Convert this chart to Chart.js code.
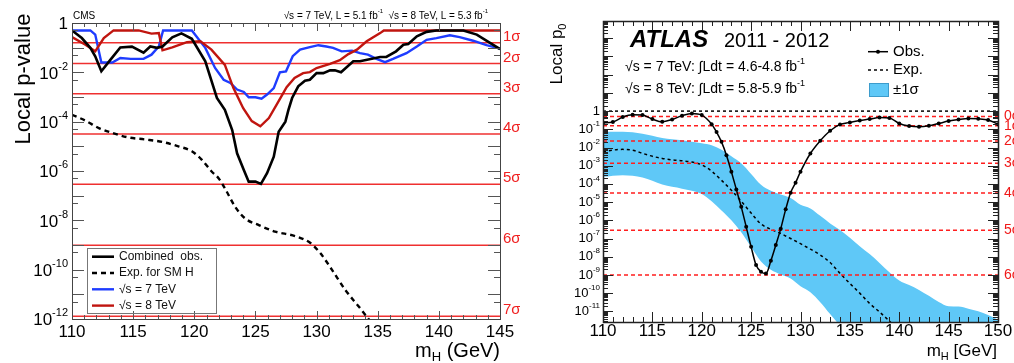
<!DOCTYPE html>
<html>
<head>
<meta charset="utf-8">
<title>Local p-value scans</title>
<script src="https://cdn.jsdelivr.net/npm/chart.js@4.4.1/dist/chart.umd.min.js"></script>
<style>
  html,body{margin:0;padding:0;background:#fff;}
  body{width:1014px;height:363px;position:relative;overflow:hidden;}
  canvas{position:absolute;top:0;}
  #cms{left:0;}
  #atlas{left:520px;}
</style>
</head>
<body>
<canvas id="cms" width="520" height="363"></canvas>
<canvas id="atlas" width="494" height="363"></canvas>
<script>
const FONT = '"Liberation Sans", Arial, Helvetica, sans-serif';

// ---------- CMS panel ----------
const cmsRange = [110, 145];
const cmsXTicks = [110, 115, 120, 125, 130, 135, 140, 145];
const cmsYTicks = [1, 1e-2, 1e-4, 1e-6, 1e-8, 1e-10, 1e-12];

const cmsObsMass = [110.0,110.8,111.5,111.9,112.4,113.2,113.95,114.9,115.85,116.4,116.95,117.4,118.2,118.95,119.8,120.9,121.85,122.5,123.1,123.5,124.05,124.45,125.0,125.45,125.95,126.5,126.9,127.45,127.7,128.0,128.5,129.05,129.45,130.0,130.55,131.1,131.5,132.0,133.0,133.55,135.2,135.7,136.5,137.1,137.5,138.2,139.0,139.8,142.0,143.1,145.0];
const cmsObsP = [0.50,0.245,0.098,0.045,0.011,0.035,0.102,0.11,0.063,0.112,0.098,0.112,0.263,0.38,0.229,0.028,9.1e-4,3.0e-4,4.6e-5,5.2e-6,1.1e-6,3.7e-7,3.7e-7,3.0e-7,8.1e-7,3.8e-6,3.9e-5,1.0e-4,3.0e-4,9.1e-4,2.7e-3,4.6e-3,5.0e-3,9.3e-3,9.3e-3,0.012,0.012,0.010,0.028,0.028,0.042,0.042,0.071,0.132,0.141,0.288,0.437,0.50,0.50,0.339,0.087];

const cms7Mass = [110.0,111.5,111.9,112.4,113.3,113.95,114.8,115.85,116.5,117.1,117.45,119.8,120.9,121.7,122.4,122.95,123.5,124.05,124.45,125.0,125.5,125.95,126.5,127.0,127.5,128.05,128.65,129.45,130.15,130.8,131.35,132.05,132.9,133.55,134.2,134.9,135.6,136.25,137.35,138.2,139.0,139.8,140.9,141.7,142.8,143.9,145.0];
const cms7P = [0.50,0.50,0.34,0.025,0.025,0.038,0.035,0.035,0.052,0.112,0.50,0.50,0.098,0.015,5.0e-3,3.7e-3,2.0e-3,1.6e-3,9.8e-4,9.8e-4,8.5e-4,1.26e-3,2.3e-3,0.010,0.011,0.045,0.083,0.105,0.126,0.112,0.098,0.071,0.076,0.060,0.052,0.035,0.026,0.035,0.060,0.112,0.209,0.245,0.316,0.269,0.191,0.126,0.091];

const cms8Mass = [110.0,111.1,111.9,112.6,113.4,115.45,116.5,117.1,117.4,118.2,119.4,120.5,121.4,122.5,123.2,124.0,124.7,125.4,126.1,126.9,127.55,128.2,128.9,129.45,130.0,131.1,131.9,132.6,133.3,134.1,135.2,135.5,145.0];
const cms8P = [0.269,0.132,0.071,0.245,0.50,0.50,0.372,0.389,0.078,0.102,0.166,0.182,0.083,0.020,2.3e-3,3.5e-4,1.05e-4,6.5e-5,1.4e-4,6.8e-4,2.5e-3,5.9e-3,9.3e-3,0.0102,0.015,0.022,0.031,0.055,0.083,0.182,0.389,0.50,0.50];

const cmsExpMass = [110.0,111.1,112.2,113.3,114.6,116.0,117.4,118.7,119.8,120.6,121.4,122.0,122.5,123.35,124.15,125.25,126.6,128.25,129.5,130.3,131.25,132.35,133.45,134.25,135.0];
const cmsExpP = [1.9e-4,1.1e-4,5.5e-5,3.5e-5,2.3e-5,1.9e-5,1.5e-5,1.0e-5,6.3e-6,2.9e-6,9.8e-7,5.0e-7,2.0e-7,3.5e-8,1.2e-8,6.5e-9,3.5e-9,2.3e-9,1.2e-9,4.7e-10,1.0e-10,1.5e-11,3.2e-12,1.0e-12,3.2e-13];

// one-sided p-values for 0..7 sigma
const sigmaNames = ["0σ","1σ","2σ","3σ","4σ","5σ","6σ","7σ"];
const sigmaP = [0.5, 0.1587, 0.02275, 1.35e-3, 3.17e-5, 2.87e-7, 9.87e-10, 1.28e-12];

// ---------- ATLAS panel ----------
const atlasRange = [110, 150];
const atlasXTicks = [110, 115, 120, 125, 130, 135, 140, 145, 150];
const atlasYTicks = [1, 1e-1, 1e-2, 1e-3, 1e-4, 1e-5, 1e-6, 1e-7, 1e-8, 1e-9, 1e-10, 1e-11];

const atlasObsMass = [110,111,112,113,114,115,116,117,118,119,120,121,121.5,122,122.5,123,123.5,124,124.5,125,125.5,126,126.5,127,127.5,128,128.5,129,129.5,130,131,132,133,134,135,136,137,138,139,140,141,142,143,144,145,146,147,148,149,150];
const atlasObsP = [0.229,0.251,0.468,0.631,0.603,0.363,0.257,0.347,0.562,0.741,0.603,0.191,0.0708,0.0204,3.8e-3,4.7e-4,5.0e-5,5.5e-6,4.4e-7,3.5e-8,3.5e-9,1.5e-9,1.2e-9,6.0e-9,4.4e-8,3.5e-7,4.0e-6,3.3e-5,1.15e-4,4.7e-4,4.7e-3,0.0234,0.083,0.186,0.240,0.309,0.363,0.447,0.417,0.209,0.151,0.138,0.155,0.209,0.282,0.347,0.398,0.380,0.324,0.191];

const atlasExpMass = [110,111,112,113,114,115,116,117,118,119,120,121,122,123,124,125,126,127,128,129,130,131,132,133,134,135,136,137,138,139,140];
const atlasExpP = [5.75e-3,7.2e-3,7.9e-3,7.1e-3,4.8e-3,3.3e-3,2.5e-3,2.1e-3,1.86e-3,1.58e-3,1.12e-3,5.0e-4,1.58e-4,4.5e-5,1.12e-5,2.5e-6,6.3e-7,3.2e-7,1.9e-7,1.0e-7,5.2e-8,2.6e-8,1.26e-8,4.8e-9,1.23e-9,3.4e-10,1.0e-10,2.7e-11,9.3e-12,2.9e-12,7.9e-13];

const atlasBandMass = [110,112,114,116,118,120,121,122,123,124,125,126,127,128,129,130,131,132,133,134,135,136,137,138,139,140,141,142,143,144,145,146,147,148,149,150];
const atlasBandHi = [0.0724,0.0724,0.0562,0.0331,0.0251,0.0170,0.0132,7.6e-3,3.3e-3,1.35e-3,3.5e-4,8.9e-5,4.2e-5,2.6e-5,1.66e-5,7.1e-6,4.5e-6,1.78e-6,6.8e-7,2.9e-7,1.12e-7,3.8e-8,1.41e-8,4.6e-9,1.41e-9,5.0e-10,2.8e-10,1.51e-10,7.1e-11,3.3e-11,1.9e-11,1.82e-11,1.41e-11,1.0e-11,6.3e-12,3.5e-12];
const atlasBandLo = [2.45e-4,3.0e-4,2.24e-4,9.3e-5,5.5e-5,2.8e-5,1.12e-5,3.5e-6,1.02e-6,2.2e-7,3.4e-8,5.5e-9,1.9e-9,1.05e-9,6.3e-10,2.4e-10,1.12e-10,3.2e-11,7.1e-12,1.6e-12,3e-13,3e-13,3e-13,3e-13,3e-13,3e-13,3e-13,3e-13,3e-13,3e-13,3e-13,3e-13,3e-13,3e-13,3e-13,3e-13];

// ---------- helpers ----------
const pts = (xs, ys) => xs.map((x, i) => ({x, y: ys[i]}));
const hline = (p, r) => [{x: r[0], y: p}, {x: r[1], y: p}];
const crisp = v => Math.round(v) + 0.5;

function drawRich(ctx, parts, x, y, size, align){
  const fontOf = p => `${(p.sup || p.sub) ? Math.round(size * 0.64) : size}px ${FONT}`;
  let w = 0;
  parts.forEach(p => { ctx.font = fontOf(p); w += ctx.measureText(p.t).width; });
  let cx = align === "right" ? x - w : align === "center" ? x - w / 2 : x;
  ctx.textAlign = "left";
  parts.forEach(p => {
    ctx.font = fontOf(p);
    const dy = p.sup ? -size * 0.42 : p.sub ? size * 0.22 : 0;
    ctx.fillText(p.t, cx, y + dy);
    cx += ctx.measureText(p.t).width;
  });
  return w;
}
function powParts(v){
  if (v === 1) return [{t: "1"}];
  return [{t: "10"}, {t: String(Math.round(Math.log10(v))), sup: true}];
}

// inward tick marks, box frame and tick labels, ROOT style
function frame(o){
  return {
    id: "frame",
    afterDatasetsDraw(chart){
      const {ctx, chartArea: a} = chart;
      const x = chart.scales.x, y = chart.scales.y;
      ctx.save();
      ctx.strokeStyle = o.tickColor; ctx.lineWidth = 1;
      ctx.beginPath();
      o.xTicks.forEach(([v, len]) => {
        const px = crisp(x.getPixelForValue(v));
        ctx.moveTo(px, a.bottom); ctx.lineTo(px, a.bottom - len);
        ctx.moveTo(px, a.top); ctx.lineTo(px, a.top + len);
      });
      o.yTicks.forEach(([v, len]) => {
        const py = crisp(y.getPixelForValue(v));
        ctx.moveTo(a.left, py); ctx.lineTo(a.left + len, py);
        ctx.moveTo(a.right, py); ctx.lineTo(a.right - len, py);
      });
      ctx.stroke();
      ctx.strokeStyle = o.frameColor; ctx.lineWidth = o.frameWidth;
      ctx.strokeRect(Math.round(a.left) + 0.5, Math.round(a.top) + 0.5, Math.round(a.right - a.left), Math.round(a.bottom - a.top));

      ctx.fillStyle = "#000"; ctx.textBaseline = "middle";
      ctx.font = `${o.xLabelSize}px ${FONT}`; ctx.textAlign = "center";
      o.xLabels.forEach(v => ctx.fillText(String(v), x.getPixelForValue(v), o.xLabelY));
      o.yLabels.forEach(v => drawRich(ctx, powParts(v), o.yLabelRight, y.getPixelForValue(v) + o.yLabelDy, o.yLabelSize, "right"));
      if (o.decor) o.decor(ctx, chart);
      ctx.restore();
    }
  };
}

function baseOptions(pad, xr, yr){
  return {
    responsive: false, animation: false, devicePixelRatio: 1, events: [],
    layout: {padding: pad},
    plugins: {legend: {display: false}, tooltip: {enabled: false}},
    elements: {point: {radius: 0}, line: {tension: 0, fill: false}},
    scales: {
      x: {type: "linear", display: false, min: xr[0], max: xr[1]},
      y: {type: "logarithmic", display: false, min: yr[0], max: yr[1]}
    }
  };
}

// ---------- CMS chart ----------
const CMS_BLUE = "#1e3cff", CMS_RED = "#c0150f", SIG_RED = "#ef3030";

const cmsXT = [], cmsYT = [];
for (let m = cmsRange[0]; m <= cmsRange[1]; m++) cmsXT.push([m, m % 5 === 0 ? 8 : 4]);
for (let e = 0; e >= -12; e--){
  cmsYT.push([Math.pow(10, e), 12]);
  if (e < 0) cmsYT.push([5 * Math.pow(10, e), 6]);
}

const cmsLegendRows = ["Combined  obs.", "Exp. for SM H", "√s = 7 TeV", "√s = 8 TeV"];

function cmsDecor(ctx, chart){
  const y = chart.scales.y;
  ctx.fillStyle = "#000"; ctx.textBaseline = "middle"; ctx.textAlign = "left";
  ctx.font = `10px ${FONT}`;
  ctx.fillText("CMS", 73, 16);
  drawRich(ctx, [{t: "√s = 7 TeV, L = 5.1 fb"}, {t: "-1", sup: true}, {t: "  √s = 8 TeV, L = 5.3 fb"}, {t: "-1", sup: true}], 488, 16, 10, "right");

  ctx.fillStyle = "#f02020"; ctx.textBaseline = "alphabetic"; ctx.font = `15px ${FONT}`;
  for (let i = 1; i < sigmaNames.length; i++){
    ctx.fillText(sigmaNames[i], 503, y.getPixelForValue(sigmaP[i]) - 2);
  }

  ctx.fillStyle = "#000";
  ctx.save();
  ctx.translate(30, 79); ctx.rotate(-Math.PI / 2);
  ctx.font = `22px ${FONT}`; ctx.textAlign = "center";
  ctx.fillText("Local p-value", 0, 0);
  ctx.restore();
  drawRich(ctx, [{t: "m"}, {t: "H", sub: true}, {t: " (GeV)"}], 500, 357, 20, "right");

  // legend box
  ctx.strokeStyle = "#777"; ctx.lineWidth = 1;
  ctx.strokeRect(87.5, 248.5, 129, 65);
  ctx.textBaseline = "middle";
  cmsLegendRows.forEach((lab, i) => {
    const ds = chart.data.datasets.find(d => d.label === lab);
    const ly = 256.7 + i * 16.3;
    ctx.strokeStyle = ds.borderColor; ctx.lineWidth = ds.borderWidth;
    ctx.setLineDash(ds.borderDash || []);
    ctx.beginPath(); ctx.moveTo(92, ly); ctx.lineTo(114, ly); ctx.stroke();
    ctx.setLineDash([]);
    ctx.fillStyle = "#111"; ctx.font = `12px ${FONT}`; ctx.textAlign = "left";
    ctx.fillText(lab, 119, ly);
  });
}

const cmsSigmaSets = sigmaP.slice(1).map((p, i) => ({
  label: sigmaNames[i + 1], data: hline(p, cmsRange), borderColor: SIG_RED, borderWidth: 1.5
}));

new Chart(document.getElementById("cms"), {
  type: "line",
  data: {datasets: [
    {label: "Combined  obs.", data: pts(cmsObsMass, cmsObsP), borderColor: "#000", borderWidth: 2.6},
    {label: "√s = 8 TeV", data: pts(cms8Mass, cms8P), borderColor: CMS_RED, borderWidth: 2.4},
    {label: "√s = 7 TeV", data: pts(cms7Mass, cms7P), borderColor: CMS_BLUE, borderWidth: 2.4},
    {label: "Exp. for SM H", data: pts(cmsExpMass, cmsExpP), borderColor: "#000", borderWidth: 2.4, borderDash: [5, 4], cubicInterpolationMode: "monotone"},
    ...cmsSigmaSets
  ]},
  options: baseOptions({left: 72, top: 23, right: 20, bottom: 44}, cmsRange, [1e-12, 1]),
  plugins: [frame({
    tickColor: "#555", frameColor: "#444", frameWidth: 1,
    xTicks: cmsXT, yTicks: cmsYT,
    xLabels: cmsXTicks, xLabelY: 332.5, xLabelSize: 17,
    yLabels: cmsYTicks, yLabelRight: 68, yLabelDy: 1.5, yLabelSize: 17,
    decor: cmsDecor
  })]
});

// ---------- ATLAS chart ----------
const BAND = "#5fc8f7", ATL_RED = "#ff1e1e";
const atlasYMin = 2.6e-12, atlasYMax = 8.9e4;

const atlasXT = [], atlasYT = [];
for (let m = atlasRange[0]; m <= atlasRange[1]; m++) atlasXT.push([m, m % 5 === 0 ? 10 : 5]);
for (let e = -12; e <= 4; e++){
  for (let k = 1; k <= 9; k++){
    const v = k * Math.pow(10, e);
    if (v >= atlasYMin && v <= atlasYMax) atlasYT.push([v, k === 1 ? 10 : 5]);
  }
}

function atlasDecor(ctx, chart){
  const y = chart.scales.y;
  ctx.fillStyle = "#000"; ctx.textBaseline = "alphabetic"; ctx.textAlign = "left";
  ctx.font = `italic bold 24px ${FONT}`;
  ctx.fillText("ATLAS", 110, 47);
  ctx.font = `20px ${FONT}`;
  ctx.fillText("2011 - 2012", 204, 47);
  ctx.textBaseline = "middle";
  drawRich(ctx, [{t: "√s = 7 TeV: ∫Ldt = 4.6-4.8 fb"}, {t: "-1", sup: true}], 105, 67, 14, "left");
  drawRich(ctx, [{t: "√s = 8 TeV: ∫Ldt = 5.8-5.9 fb"}, {t: "-1", sup: true}], 105, 89.5, 14, "left");

  // legend
  const obs = chart.data.datasets[0], exp = chart.data.datasets.find(d => d.label === "Exp.");
  ctx.strokeStyle = obs.borderColor; ctx.lineWidth = obs.borderWidth;
  ctx.beginPath(); ctx.moveTo(348, 51.7); ctx.lineTo(368, 51.7); ctx.stroke();
  ctx.beginPath(); ctx.arc(358, 51.7, 2, 0, Math.PI * 2); ctx.fill();
  ctx.strokeStyle = exp.borderColor; ctx.lineWidth = exp.borderWidth; ctx.setLineDash(exp.borderDash);
  ctx.beginPath(); ctx.moveTo(348, 70); ctx.lineTo(368, 70); ctx.stroke();
  ctx.setLineDash([]);
  ctx.fillStyle = BAND; ctx.fillRect(349, 83, 20, 14);
  ctx.strokeStyle = "#3d9ccc"; ctx.lineWidth = 1; ctx.strokeRect(349.5, 83.5, 19, 13);
  ctx.fillStyle = "#000"; ctx.font = `15px ${FONT}`;
  ctx.fillText("Obs.", 373, 52);
  ctx.fillText("Exp.", 373, 70);
  ctx.fillText("±1σ", 373, 90);

  ctx.fillStyle = "#f01818"; ctx.font = `14px ${FONT}`;
  for (let i = 0; i <= 6; i++) ctx.fillText(sigmaNames[i], 484, y.getPixelForValue(sigmaP[i]));

  ctx.fillStyle = "#000"; ctx.textBaseline = "alphabetic";
  ctx.save();
  ctx.translate(42, 54); ctx.rotate(-Math.PI / 2);
  drawRich(ctx, [{t: "Local p"}, {t: "0", sub: true}], 0, 0, 17, "center");
  ctx.restore();
  drawRich(ctx, [{t: "m"}, {t: "H", sub: true}, {t: " [GeV]"}], 477, 356, 17, "right");
}

const atlasSigmaSets = sigmaP.slice(0, 7).map((p, i) => ({
  label: sigmaNames[i], data: hline(p, atlasRange), borderColor: ATL_RED, borderWidth: 1.5, borderDash: [4, 3]
}));

new Chart(document.getElementById("atlas"), {
  type: "line",
  data: {datasets: [
    {label: "Obs.", data: pts(atlasObsMass, atlasObsP), borderColor: "#000", borderWidth: 1.5,
     cubicInterpolationMode: "monotone", pointRadius: 2, pointBackgroundColor: "#000", pointBorderWidth: 0},
    ...atlasSigmaSets,
    {label: "p0 = 1", data: hline(1, atlasRange), borderColor: "#000", borderWidth: 1.5, borderDash: [3, 3]},
    {label: "Exp.", data: pts(atlasExpMass, atlasExpP), borderColor: "#000", borderWidth: 1.5, borderDash: [3, 3], cubicInterpolationMode: "monotone"},
    {label: "+1σ", data: pts(atlasBandMass, atlasBandHi), borderWidth: 0, borderColor: BAND, backgroundColor: BAND, fill: "+1", cubicInterpolationMode: "monotone"},
    {label: "-1σ", data: pts(atlasBandMass, atlasBandLo), borderWidth: 0, borderColor: BAND, cubicInterpolationMode: "monotone"}
  ]},
  options: baseOptions({left: 83, top: 21, right: 16, bottom: 41}, atlasRange, [atlasYMin, atlasYMax]),
  plugins: [frame({
    tickColor: "#222", frameColor: "#222", frameWidth: 1.5,
    xTicks: atlasXT, yTicks: atlasYT,
    xLabels: atlasXTicks, xLabelY: 331, xLabelSize: 17,
    yLabels: atlasYTicks, yLabelRight: 80, yLabelDy: 0, yLabelSize: 13,
    decor: atlasDecor
  })]
});
</script>
</body>
</html>
